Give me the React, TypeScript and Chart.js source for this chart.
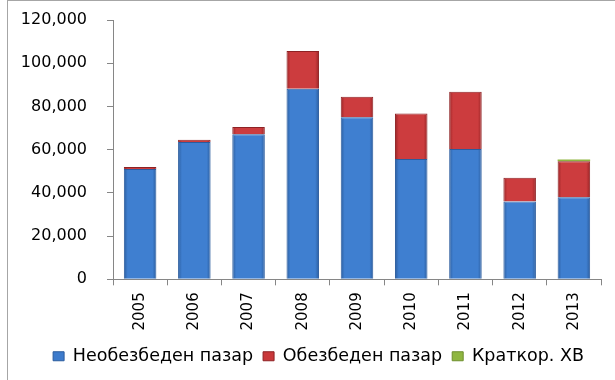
import React, { useEffect, useRef } from "react";
import { Chart, registerables } from "chart.js";

Chart.register(...registerables);

const years = ["2005", "2006", "2007", "2008", "2009", "2010", "2011", "2012", "2013"];
const unsecured = [51000, 63600, 67100, 88200, 75000, 55700, 60300, 36000, 38000];
const secured = [1000, 1000, 3400, 17400, 9500, 21000, 26500, 11000, 16600];
const shortTerm = [0, 0, 0, 0, 0, 0, 0, 0, 900];
const seriesNames = ["Необезбеден пазар", "Обезбеден пазар", "Краткор. ХВ"];
const yMax = 120000;
const yStep = 20000;

function barGradient(edge: string, mid: string, flat: string) {
  return (ctx: any) => {
    const chart = ctx.chart;
    const xs = chart.scales && chart.scales.x;
    if (!chart.chartArea || !xs || ctx.dataIndex === undefined) return flat;
    const cx = xs.getPixelForValue(ctx.dataIndex);
    const half = (xs.width / years.length) * 0.3;
    const g = chart.ctx.createLinearGradient(cx - half, 0, cx + half, 0);
    g.addColorStop(0, edge);
    g.addColorStop(0.12, mid);
    g.addColorStop(0.88, mid);
    g.addColorStop(1, edge);
    return g;
  };
}

const legendShift = {
  id: "legendShift",
  afterLayout(chart: any) {
    if (chart.legend) {
      chart.legend.left += 18;
      chart.legend.right += 18;
    }
  },
};

export default function App() {
  const ref = useRef<HTMLCanvasElement | null>(null);

  useEffect(() => {
    if (!ref.current) return;
    const font = "'DejaVu Sans', Verdana, sans-serif";
    const chart = new Chart(ref.current, {
      type: "bar",
      data: {
        labels: years,
        datasets: [
          {
            label: seriesNames[0],
            data: unsecured,
            backgroundColor: barGradient("#2C5E9F", "#3F7FD0", "#3D7BCC") as any,
            borderColor: "#2B5C9E",
            borderWidth: 1,
          },
          {
            label: seriesNames[1],
            data: secured,
            backgroundColor: barGradient("#9A2527", "#CC3C3E", "#C9383A") as any,
            borderColor: "#8E2224",
            borderWidth: 1,
          },
          {
            label: seriesNames[2],
            data: shortTerm,
            backgroundColor: "#8FB640",
            borderColor: "#6E8F2E",
            borderWidth: 0,
          },
        ],
      },
      plugins: [legendShift],
      options: {
        responsive: false,
        animation: false,
        layout: { padding: { top: 20, right: 14, left: 0, bottom: 5 } },
        datasets: {
          bar: { barPercentage: 0.6, categoryPercentage: 1 },
        },
        plugins: {
          tooltip: { enabled: false },
          legend: {
            position: "bottom",
            labels: {
              boxWidth: 11,
              boxHeight: 9,
              color: "#000",
              font: { family: font, size: 17.5 },
              padding: 10,
              generateLabels: (c: any) => {
                const items = Chart.defaults.plugins.legend.labels.generateLabels(c);
                const fills = ["#3D7BCC", "#C9383A", "#8FB640"];
                const strokes = ["#2B5C9E", "#8E2224", "#6E8F2E"];
                return items.map((it: any, i: number) => ({
                  ...it,
                  fillStyle: fills[i],
                  strokeStyle: strokes[i],
                  lineWidth: 1,
                }));
              },
            },
          },
        },
        scales: {
          x: {
            stacked: true,
            grid: {
              offset: true,
              drawOnChartArea: false,
              tickLength: 6,
              color: "#868686",
            },
            border: { color: "#868686" },
            ticks: {
              minRotation: 90,
              maxRotation: 90,
              color: "#000",
              font: { family: font, size: 15 },
              padding: 7,
            },
          },
          y: {
            stacked: true,
            min: 0,
            max: yMax,
            grid: { drawOnChartArea: false, tickLength: 6, color: "#868686" },
            border: { color: "#868686" },
            ticks: {
              stepSize: yStep,
              color: "#000",
              font: { family: font, size: 16 },
              padding: 20,
              callback: (v: any) => Number(v).toLocaleString("en-US"),
            },
            afterFit: (s: any) => {
              s.width = 113;
              s.paddingTop = 0;
              s.paddingBottom = 0;
            },
          },
        },
      },
    });
    return () => chart.destroy();
  }, []);

  return (
    <div style={{ position: "fixed", left: 0, top: 0, width: 615, height: 380, background: "#fff", overflow: "hidden" }}>
      <div
        style={{
          position: "absolute",
          left: 7,
          top: 0,
          width: 700,
          height: 500,
          borderLeft: "1px solid #a6a6a6",
          borderTop: "1px solid #a6a6a6",
        }}
      />
      <canvas ref={ref} width={615} height={380} style={{ position: "absolute", left: 0, top: 0, width: 615, height: 380 }} />
    </div>
  );
}
